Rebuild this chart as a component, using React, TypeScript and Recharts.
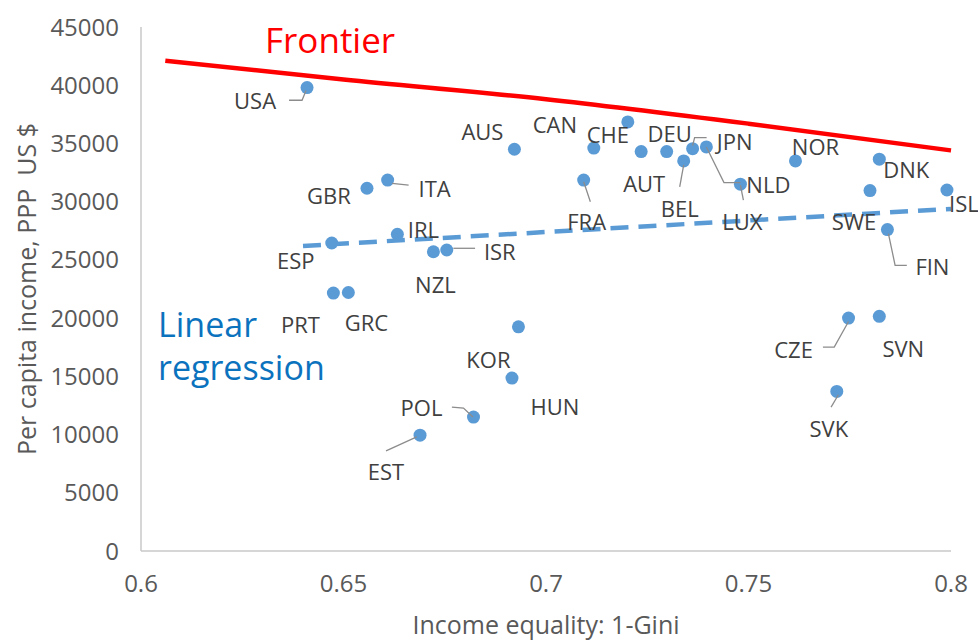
import React from 'react';
import { ComposedChart, XAxis, YAxis, Scatter, Line } from 'recharts';

// ---------- data ----------
const countries = [
  'USA', 'AUS', 'CAN', 'CHE', 'AUT', 'DEU', 'BEL', 'JPN', 'NLD', 'LUX',
  'NOR', 'DNK', 'SWE', 'ISL', 'FIN', 'GBR', 'ITA', 'IRL', 'ESP', 'NZL',
  'ISR', 'FRA', 'PRT', 'GRC', 'KOR', 'HUN', 'POL', 'EST', 'CZE', 'SVN', 'SVK',
];
const equality = [
  0.641, 0.6922, 0.7202, 0.7118, 0.7235, 0.7298, 0.7340, 0.7362, 0.7396, 0.7480,
  0.7616, 0.7823, 0.7800, 0.7990, 0.7843, 0.6558, 0.6609, 0.6633, 0.6471, 0.6722,
  0.6755, 0.7093, 0.6475, 0.6512, 0.6932, 0.6916, 0.6821, 0.6689, 0.7747, 0.7823, 0.7718,
];
const income = [
  39800, 34500, 36850, 34600, 34300, 34300, 33500, 34550, 34700, 31500,
  33500, 33650, 30950, 31000, 27600, 31150, 31850, 27200, 26450, 25700,
  25850, 31850, 22150, 22200, 19250, 14850, 11500, 9950, 20000, 20150, 13700,
];

const frontierX = [0.606, 0.65, 0.7, 0.75, 0.8];
const frontierY = [42100, 40500, 38800, 36700, 34400];

const regressionX = [0.64, 0.8];
const regressionY = [26200, 29380];

const xTicks = [0.6, 0.65, 0.7, 0.75, 0.8];
const yTicks = [0, 5000, 10000, 15000, 20000, 25000, 30000, 35000, 40000, 45000];

// ---------- label layout (offsets from the point, in px) ----------
type Layout = { dx: number; dy: number; leader?: [number, number][] };
const labelLayout: Record<string, Layout> = {
  USA: { dx: -52, dy: 14, leader: [[-18, 12.7], [-5, 12.7], [-1, 3]] },
  AUS: { dx: -32, dy: -17 },
  CAN: { dx: -73, dy: 3 },
  CHE: { dx: 14, dy: -13 },
  AUT: { dx: 3, dy: 32 },
  DEU: { dx: 3, dy: -18 },
  BEL: { dx: -4, dy: 48, leader: [[0, 4], [-4, 26]] },
  JPN: { dx: 42, dy: -7, leader: [[0, -3], [2, -11], [14, -11]] },
  NLD: { dx: 62, dy: 38, leader: [[0, 0], [17.6, 35.6], [34, 35.6]] },
  LUX: { dx: 2, dy: 38, leader: [[0, 1], [3, 16]] },
  NOR: { dx: 20, dy: -14 },
  DNK: { dx: 27, dy: 11 },
  SWE: { dx: -16, dy: 31 },
  ISL: { dx: 17, dy: 14 },
  FIN: { dx: 45, dy: 37, leader: [[1, 4], [7.7, 35.7], [19.4, 35.7]] },
  GBR: { dx: -38, dy: 8 },
  ITA: { dx: 47, dy: 9, leader: [[4.4, 3.3], [21, 5]] },
  IRL: { dx: 26, dy: -4 },
  ESP: { dx: -36, dy: 18 },
  NZL: { dx: 2, dy: 33 },
  ISR: { dx: 53, dy: 2, leader: [[6.6, -1.7], [28.3, -1.7]] },
  FRA: { dx: 3, dy: 42, leader: [[0, 1.7], [6.7, 21.7]] },
  PRT: { dx: -33, dy: 32 },
  GRC: { dx: 18, dy: 31 },
  KOR: { dx: -30, dy: 33 },
  HUN: { dx: 43, dy: 29 },
  POL: { dx: -52, dy: -9, leader: [[-21.6, -10], [-10, -9], [-0.6, 0]] },
  EST: { dx: -34, dy: 37, leader: [[-34, 15.7], [-3.3, 1.7]] },
  CZE: { dx: -55, dy: 32, leader: [[-25.6, 29], [-14.3, 29], [0, 3.4]] },
  SVN: { dx: 24, dy: 33 },
  SVK: { dx: -8, dy: 38, leader: [[1.6, 3.3], [-5.7, 15.6]] },
};

const points = countries.map((name, i) => ({ name, x: equality[i], y: income[i] }));
const frontier = frontierX.map((x, i) => ({ x, y: frontierY[i] }));
const regression = regressionX.map((x, i) => ({ x, y: regressionY[i] }));

const FONT = '"Open Sans", sans-serif';
const DOT_COLOR = '#5B9BD5';
const TEXT_COLOR = '#404040';

function Dot(props: any) {
  const { cx, cy } = props;
  if (cx == null || cy == null) return null;
  return <circle cx={cx} cy={cy} r={6.5} fill={DOT_COLOR} />;
}

function CountryLabel(props: any) {
  const { cx, cy, payload } = props;
  if (cx == null || cy == null || !payload) return null;
  const l = labelLayout[payload.name] || { dx: 0, dy: -20 };
  return (
    <g>
      {l.leader && (
        <polyline
          points={l.leader.map(([a, b]) => `${cx + a},${cy + b}`).join(' ')}
          fill="none"
          stroke="#8C8C8C"
          strokeWidth={1.3}
        />
      )}
      <text
        x={cx + l.dx}
        y={cy + l.dy}
        dy="0.36em"
        textAnchor="middle"
        fontFamily={FONT}
        fontSize={22}
        fill={TEXT_COLOR}
      >
        {payload.name}
      </text>
    </g>
  );
}

export default function App() {
  return (
    <div style={{ position: 'absolute', left: 0, top: 0, width: 978, height: 641, background: '#fff' }}>
      <ComposedChart width={978} height={641} margin={{ top: 27, right: 27, bottom: 0, left: 0 }}>
        <XAxis
          type="number"
          dataKey="x"
          domain={[0.6, 0.8]}
          ticks={xTicks}
          tickLine={false}
          tickSize={0}
          tickMargin={24}
          height={90}
          axisLine={{ stroke: '#C8C8C8', strokeWidth: 1.5 }}
          tick={{ fill: '#595959', fontSize: 24, fontFamily: FONT }}
          label={(p: any) => {
            const vb = p.viewBox || {};
            return (
              <text
                x={vb.x + vb.width / 2}
                y={vb.y + vb.height - 7}
                textAnchor="middle"
                fontFamily={FONT}
                fontSize={25}
                fill="#595959"
              >
                Income equality: 1-Gini
              </text>
            );
          }}
        />
        <YAxis
          type="number"
          dataKey="y"
          domain={[0, 45000]}
          ticks={yTicks}
          tickLine={false}
          tickSize={0}
          tickMargin={22}
          width={141}
          axisLine={{ stroke: '#C8C8C8', strokeWidth: 1.5 }}
          tick={{ fill: '#595959', fontSize: 24, fontFamily: FONT }}
          label={(p: any) => {
            const vb = p.viewBox || {};
            const x = vb.x + 27;
            const y = vb.y + vb.height / 2;
            return (
              <text
                x={x}
                y={y}
                dy="0.36em"
                transform={`rotate(-90, ${x}, ${y})`}
                textAnchor="middle"
                fontFamily={FONT}
                fontSize={25}
                fill="#595959"
                style={{ whiteSpace: 'pre' }}
              >
                {'Per capita income, PPP  US $'}
              </text>
            );
          }}
        />
        <Scatter data={points} shape={Dot} isAnimationActive={false} />
        <Scatter data={points} shape={CountryLabel} isAnimationActive={false} />
        <Line
          data={frontier}
          dataKey="y"
          type="monotone"
          stroke="#FF0000"
          strokeWidth={4.5}
          dot={false}
          activeDot={false}
          isAnimationActive={false}
        />
        <Line
          data={regression}
          dataKey="y"
          type="linear"
          stroke={DOT_COLOR}
          strokeWidth={4.5}
          strokeDasharray="18 10"
          dot={false}
          activeDot={false}
          isAnimationActive={false}
        />
      </ComposedChart>
      <svg
        width={978}
        height={641}
        style={{ position: 'absolute', left: 0, top: 0, pointerEvents: 'none' }}
      >
        <text x={265} y={53} fontFamily={FONT} fontSize={35} fill="#FF0000">
          Frontier
        </text>
        <text x={158} y={337} fontFamily={FONT} fontSize={34} fill="#0B72BE">
          Linear
        </text>
        <text x={158} y={380} fontFamily={FONT} fontSize={34} fill="#0B72BE">
          regression
        </text>
      </svg>
    </div>
  );
}
